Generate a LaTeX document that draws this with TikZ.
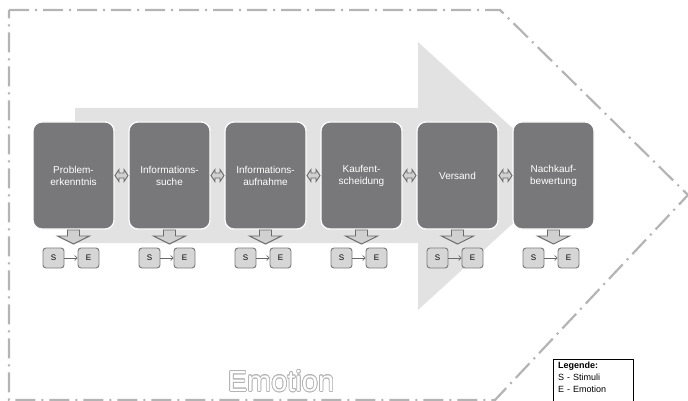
\documentclass[tikz,border=0pt]{standalone}
\usepackage{fontspec}
\setmainfont{Liberation Sans}
\setsansfont{Liberation Sans}
\usetikzlibrary{calc,positioning,arrows.meta}
\definecolor{boxgray}{HTML}{78787B}
\definecolor{flowgray}{HTML}{E2E2E2}
\definecolor{framegray}{HTML}{B4B4B4}
\definecolor{arrfill}{HTML}{D0D0D0}
\definecolor{arrdraw}{HTML}{6A6A6A}
\definecolor{sefill}{HTML}{D6D6D6}
\definecolor{sedraw}{HTML}{7A7A7A}
\tikzset{
  phase/.style={rectangle,rounded corners=9pt,fill=boxgray,draw=white,
    line width=1.2pt,minimum width=81pt,minimum height=107pt,inner sep=0pt,
    outer sep=0pt,text=white,align=center,
    font=\sffamily\fontsize{10}{12}\selectfont},
  sebox/.style={rectangle,rounded corners=3pt,fill=sefill,draw=sedraw,
    line width=0.9pt,minimum width=21pt,minimum height=20pt,inner sep=0pt,
    font=\sffamily\fontsize{8}{8}\selectfont},
  smallarr/.style={fill=arrfill,draw=arrdraw,line width=0.9pt,line join=miter},
  frameline/.style={draw=framegray,line width=2.2pt,
    dash pattern=on 20pt off 6pt on 2pt off 6pt},
  titlefont/.style={font=\sffamily\fontsize{29}{29}\selectfont,inner sep=0pt},
}
\begin{document}
\begin{tikzpicture}[x=1pt,y=-1pt]
\clip (0,0) rectangle (688,401);
% outer frame
\draw[frameline] (9,10) -- (500,10) -- (688,195) -- (495,400) -- (9,400) -- cycle;
% big process arrow
\fill[flowgray] (75,108) -- (418,108) -- (418,42) -- (565,176)
  -- (418,310) -- (418,243) -- (75,243) -- cycle;
% phases
\foreach \i/\txt in {1/{Problem-\\erkenntnis},2/{Informations-\\suche},
    3/{Informations-\\aufnahme},4/{Kaufent-\\scheidung},5/{Versand},
    6/{Nachkauf-\\bewertung}}
{
  \node[phase] (b\i) at ({73.5+96*(\i-1)},175.5) {\txt};
  \draw[smallarr] ($(b\i.south)+(-6,1)$) -- ++(12,0) -- ++(0,6)
    -- ++(10,0) -- ++(-16,8) -- ++(-16,-8) -- ++(10,0) -- cycle;
  \node[sebox] (s\i) at ($(b\i.south)+(-20,29)$) {S};
  \node[sebox] (e\i) at ($(b\i.south)+(15,29)$) {E};
  \draw[arrdraw,line width=0.7pt,-{Straight Barb[length=2.5pt,width=5pt]}]
    (s\i) -- (e\i);
}
% links between phases
\foreach \i/\j in {1/2,2/3,3/4,4/5,5/6}
  \draw[smallarr] ($(b\i.east)+(1,0)$) -- ++(4,-6) -- ++(0,3.5) -- ++(5,0)
    -- ++(0,-3.5) -- ++(4,6) -- ++(-4,6) -- ++(0,-3.5) -- ++(-5,0)
    -- ++(0,3.5) -- cycle;
% outlined title (gray rim, white inside)
\foreach \a in {0,22.5,...,337.5}
  \node[titlefont,text=framegray] (emo\a) at ($(281,381)+(\a:0.7)$) {Emotion};
\node[titlefont,text=white] (emo) at (281,381) {Emotion};
% legend
\node[anchor=north west,align=left,inner xsep=5pt,inner ysep=3pt,
  text width=70pt,font=\sffamily\fontsize{9}{12}\selectfont] (leg)
  at (553,359) {\textbf{Legende:}\\S - Stimuli\\E - Emotion};
\draw[line width=0.6pt] (leg.north west) rectangle ($(leg.north east)+(0,60)$);
\end{tikzpicture}
\end{document}
